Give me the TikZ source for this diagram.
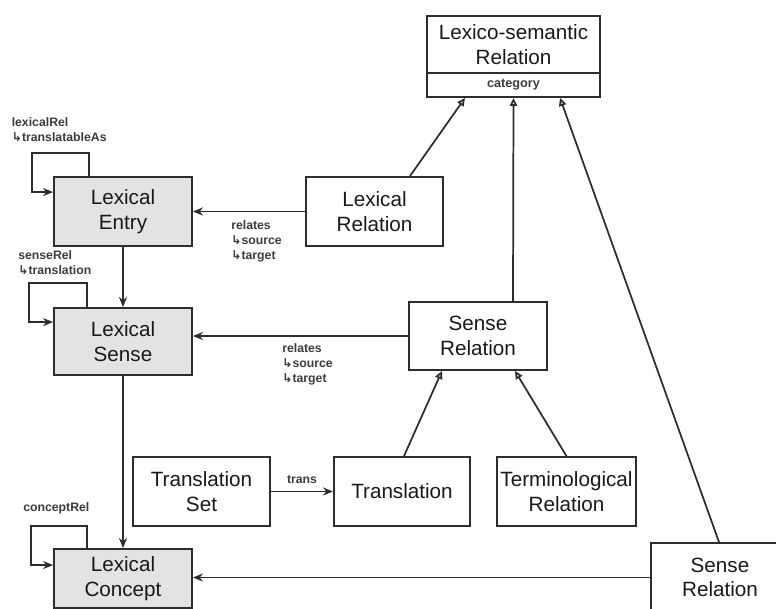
\documentclass[tikz,border=0pt]{standalone}
\usepackage{fontspec}
\setmainfont{Liberation Sans}
\newfontfamily\arrowfont{DejaVu Sans}
\usetikzlibrary{arrows.meta,calc}

\definecolor{edgegray}{RGB}{45,45,45}
\definecolor{boxgray}{RGB}{227,227,227}
\definecolor{labelgray}{RGB}{60,60,60}
\newcommand{\subrole}{{\arrowfont\char"21B3}}

\tikzset{
    cls/.style={draw=edgegray, line width=1.4pt, align=center, inner sep=0pt,
        minimum width=103.5pt, minimum height=51.75pt, text=black!90,
        font=\fontsize{15.5}{18.5}\selectfont},
    lexcls/.style={cls, fill=boxgray},
    lbl/.style={inner sep=0pt, align=left, text=labelgray,
        font=\fontsize{9.2}{11.25}\selectfont\bfseries},
    assoc/.style={draw=edgegray, line width=1.3pt, -{Stealth[length=7.5pt,width=6pt]}},
    isa/.style={draw=edgegray, line width=1.3pt, -{Triangle[open,length=6pt,width=5.5pt]}},
}

\begin{document}
\begin{tikzpicture}[x=0.75pt,y=0.75pt,yscale=-1,xscale=1]
    \useasboundingbox (0,0) rectangle (776,608);
    \clip (0,0) rectangle (776,608);

    % lexical classes
    \node[lexcls] (lexent) at (123,211.5) {Lexical\\Entry};
    \node[lexcls, minimum height=50.25pt] (lexsense) at (123,341.5) {Lexical\\Sense};
    \node[lexcls, minimum height=44.25pt] (lexconcept) at (123,578.5) {Lexical\\Concept};

    % relation classes
    \node[cls, minimum width=129.75pt, minimum height=42.75pt] (lsrtitle) at (513.5,44.5) {Lexico-semantic\\Relation};
    \node[cls, minimum width=129.75pt, minimum height=18pt, font=\fontsize{9.5}{11}\selectfont\bfseries, text=labelgray] (lsrcat) at (513.5,85) {category};
    \node[cls, minimum width=102.75pt] (lexrel) at (374.5,211.5) {Lexical\\Relation};
    \node[cls, minimum height=51pt] (senserel) at (478,336) {Sense\\Relation};
    \node[cls, minimum width=102.75pt] (transset) at (201.5,491.5) {Translation\\Set};
    \node[cls, minimum width=102pt] (trans) at (402,491.5) {Translation};
    \node[cls, minimum width=104.25pt] (term) at (566.5,491.5) {Terminological\\Relation};
    \node[cls] (senserelb) at (720,577.5) {Sense\\Relation};

    % associations
    \draw[assoc] (lexrel.west) -- (lexrel.west -| lexent.east);
    \draw[assoc] (senserel.west) -- (senserel.west -| lexsense.east);
    \draw[assoc] (senserelb.west) -- (senserelb.west -| lexconcept.east);
    \draw[assoc] (lexent.south) -- (lexsense.north);
    \draw[assoc] (lexsense.south) -- (lexconcept.north);
    \draw[assoc] (transset.east) -- node[above=5pt, inner sep=0pt, lbl] (translbl) {trans} (transset.east -| trans.west);

    % self loops
    \draw[assoc] ($(lexent.north west)+(36,0)$) -- ++(0,-23) -- ++(-57,0) |- ($(lexent.north west)+(0,16)$);
    \draw[assoc] ($(lexsense.north west)+(34,0)$) -- ++(0,-24) -- ++(-58,0) |- ($(lexsense.north west)+(0,15)$);
    \draw[assoc] ($(lexconcept.north west)+(34,0)$) -- ++(0,-22) -- ++(-56,0) |- ($(lexconcept.north west)+(0,17)$);

    % generalisations
    \draw[isa] ($(lexrel.north)+(35.5,0)$) -- ($(lsrcat.south)+(-48.5,0)$);
    \draw[isa] ($(senserel.north)+(35,0)$) -- (lsrcat.south);
    \draw[isa] ($(senserelb.north)+(-1,0)$) -- ($(lsrcat.south)+(46.5,0)$);
    \draw[isa] ($(trans.north)+(2,0)$) -- ($(senserel.south)+(-36,0)$);
    \draw[isa] (term.north) -- ($(senserel.south)+(37,0)$);

    % role labels
    \node[lbl, anchor=north west] (entryrole) at (11.5,117) {lexicalRel\\\subrole translatableAs};
    \node[lbl, anchor=north west] (senserole) at (18,250) {senseRel\\\subrole translation};
    \node[lbl, anchor=north west] (conceptrole) at (23,502) {conceptRel};
    \node[lbl, anchor=north west] (lexrelrole) at (231,220) {relates\\\subrole source\\\subrole target};
    \node[lbl, anchor=north west] (senserelrole) at (282,343) {relates\\\subrole source\\\subrole target};
\end{tikzpicture}
\end{document}
